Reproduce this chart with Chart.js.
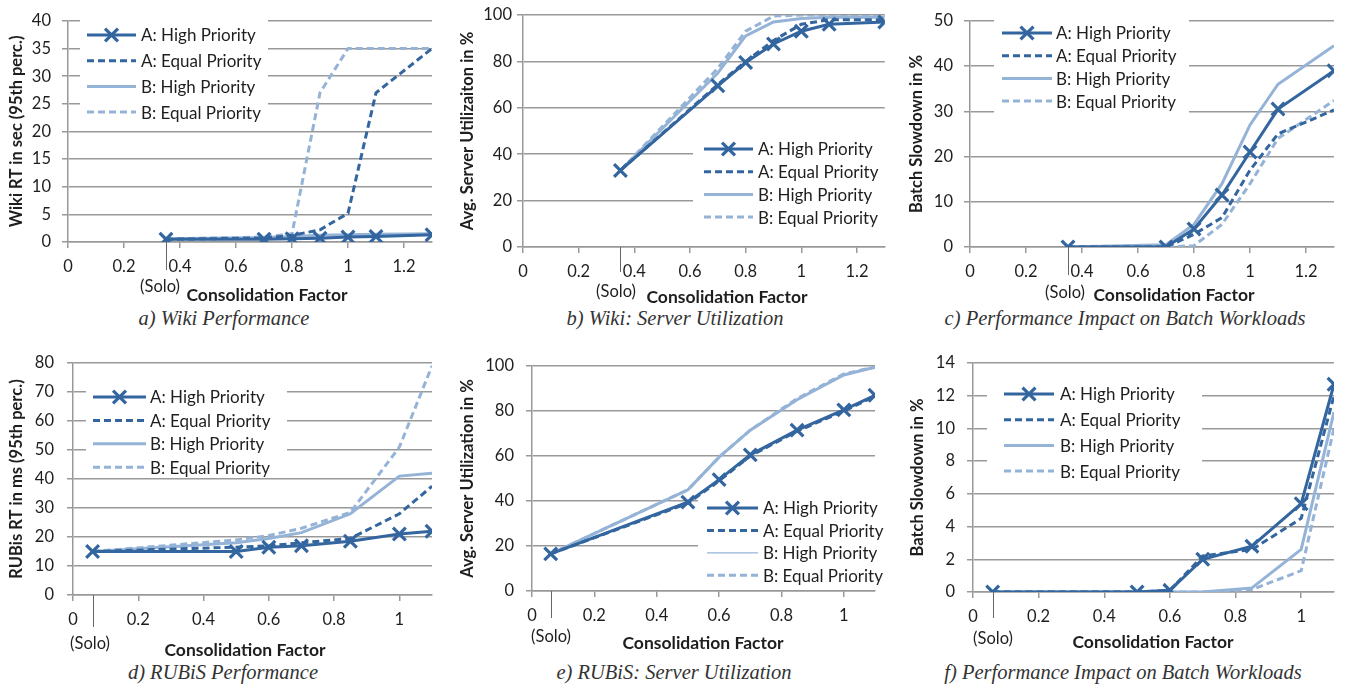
<!DOCTYPE html>
<html><head><meta charset="utf-8">
<script src="https://cdn.jsdelivr.net/npm/chart.js@4/dist/chart.umd.min.js"></script>
<style>
html,body{margin:0;padding:0;background:#fff;}
body{width:1347px;height:685px;position:relative;overflow:hidden;}
canvas{position:absolute;}
.cap{position:absolute;width:440px;text-align:center;font-family:"Liberation Serif",serif;font-style:italic;font-size:20.5px;color:#333;line-height:20px;}
</style></head>
<body>
<canvas id="ca" width="445" height="305" style="left:0;top:0"></canvas>
<canvas id="cb" width="447" height="305" style="left:450px;top:0"></canvas>
<canvas id="cc" width="450" height="305" style="left:897px;top:0"></canvas>
<canvas id="cd" width="445" height="320" style="left:0;top:340px"></canvas>
<canvas id="ce" width="447" height="320" style="left:450px;top:340px"></canvas>
<canvas id="cf" width="450" height="320" style="left:897px;top:340px"></canvas>
<div class="cap" style="left:4px;top:308px">a) Wiki Performance</div>
<div class="cap" style="left:455px;top:308px">b) Wiki: Server Utilization</div>
<div class="cap" style="left:905px;top:308px">c) Performance Impact on Batch Workloads</div>
<div class="cap" style="left:3px;top:662px">d) RUBiS Performance</div>
<div class="cap" style="left:454px;top:662px">e) RUBiS: Server Utilization</div>
<div class="cap" style="left:903px;top:662px">f) Performance Impact on Batch Workloads</div>
<script>
// ---- data ----
const seriesLabels = ["A: High Priority", "A: Equal Priority", "B: High Priority", "B: Equal Priority"];
const wikiX  = [0.35, 0.7, 0.8, 0.9, 1.0, 1.1, 1.3];
const rubisX = [0.06, 0.5, 0.6, 0.7, 0.85, 1.0, 1.1];
const wikiXTicks  = [0, 0.2, 0.4, 0.6, 0.8, 1, 1.2];
const rubisXTicks = [0, 0.2, 0.4, 0.6, 0.8, 1];

const wikiRT_AHigh  = [0.5, 0.5, 0.6, 0.7, 0.9, 1.0, 1.3];
const wikiRT_AEqual = [0.5, 0.7, 1.2, 2.2, 5.2, 27, 35];
const wikiRT_BHigh  = [0.6, 0.8, 1.0, 1.2, 1.3, 1.4, 1.5];
const wikiRT_BEqual = [0.5, 0.9, 1.5, 27, 35, 35, 35];

const wikiUtil_AHigh  = [33, 69.5, 79.5, 87.5, 93, 96, 97];
const wikiUtil_AEqual = [33, 70, 80, 89, 96, 98, 98];
const wikiUtil_BHigh  = [33, 75, 91, 97, 98.5, 99, 99];
const wikiUtil_BEqual = [33, 77, 93, 99.5, 100, 100, 100];

const wikiBatch_AHigh  = [0, 0, 4, 11.5, 21, 30.5, 39];
const wikiBatch_AEqual = [0, 0, 2.8, 6.5, 17, 25, 30.3];
const wikiBatch_BHigh  = [0, 0.5, 5, 14, 27, 36, 44.5];
const wikiBatch_BEqual = [0, 0, 0.3, 5, 14, 24, 32.4];

const rubisRT_AHigh  = [15, 15, 16.5, 17, 18.5, 21, 22];
const rubisRT_AEqual = [15, 16.5, 17, 18, 19.5, 28, 37.5];
const rubisRT_BHigh  = [15, 18, 19.5, 21.5, 28, 41, 42];
const rubisRT_BEqual = [15, 19, 20.5, 23, 28.5, 51, 79];

const rubisUtil_AHigh  = [16.5, 39.5, 49.5, 60.5, 71.5, 80.5, 87];
const rubisUtil_AEqual = [16.5, 39, 49, 60, 71, 80, 86.5];
const rubisUtil_BHigh  = [16.5, 45, 59.5, 71.5, 85, 96, 99.5];
const rubisUtil_BEqual = [16.5, 45, 59.5, 71.5, 85.5, 96.5, 99.5];

const rubisBatch_AHigh  = [0, 0, 0.1, 2, 2.8, 5.4, 12.7];
const rubisBatch_AEqual = [0, 0, 0.1, 2.2, 2.6, 4.5, 12];
const rubisBatch_BHigh  = [0, 0, 0, 0, 0.25, 2.6, 11];
const rubisBatch_BEqual = [0, 0, 0, 0, 0.15, 1.3, 10];

// ---- styles ----
const DARK = '#33659f', LIGHT = '#95b3d7', GRID = '#999999', TXT = '#1e1e1e';
const colors = [DARK, DARK, LIGHT, LIGHT];
const dashes = [[], [7, 4], [], [7, 4]];
const FONT = 'Lato';

function fmt(v){ return String(Math.round(v*10)/10); }

const deco = {
  id: 'deco',
  beforeDatasetsDraw(chart, args, o) {
    const ctx = chart.ctx, L = o.legend;
    ctx.save();
    ctx.fillStyle = '#fff';
    ctx.fillRect(L.box[0], L.box[1], L.box[2], L.box[3]);
    chart.data.datasets.forEach((ds, i) => {
      const y = L.y0 + i * L.dy;
      ctx.strokeStyle = ds.borderColor;
      ctx.lineWidth = (L.widths && L.widths[i]) || ds.borderWidth;
      ctx.setLineDash(ds.borderDash || []);
      ctx.beginPath(); ctx.moveTo(L.x0, y); ctx.lineTo(L.x1, y); ctx.stroke();
      ctx.setLineDash([]);
      if (ds.pointRadius > 0) {
        const cx = (L.x0 + L.x1) / 2, r = ds.pointRadius * 0.72;
        ctx.lineWidth = ds.pointBorderWidth;
        ctx.beginPath();
        ctx.moveTo(cx - r, y - r); ctx.lineTo(cx + r, y + r);
        ctx.moveTo(cx - r, y + r); ctx.lineTo(cx + r, y - r);
        ctx.stroke();
      }
      ctx.fillStyle = TXT; ctx.font = '17px ' + FONT; ctx.textBaseline = 'middle'; ctx.textAlign = 'left';
      ctx.fillText(ds.label, L.tx, y + 1);
    });
    ctx.restore();
  },
  afterDraw(chart, args, o) {
    const ctx = chart.ctx, a = chart.chartArea;
    ctx.save();
    // solo tick
    const sx = Math.round(chart.scales.x.getPixelForValue(o.solo.x)) + 0.5;
    ctx.strokeStyle = '#666'; ctx.lineWidth = 1;
    ctx.beginPath(); ctx.moveTo(sx, a.bottom); ctx.lineTo(sx, o.solo.y1); ctx.stroke();
    ctx.fillStyle = TXT; ctx.textAlign = 'center'; ctx.textBaseline = 'middle';
    ctx.font = '16.5px ' + FONT;
    ctx.fillText('(Solo)', o.solo.tx, o.solo.ty);
    // x title
    ctx.font = 'bold 17.5px ' + FONT;
    ctx.fillText(o.xTitle.text, o.xTitle.x, o.xTitle.y);
    // y title
    ctx.font = 'bold 16.5px ' + FONT;
    ctx.translate(o.yTitle.x, (a.top + a.bottom) / 2);
    ctx.rotate(-Math.PI / 2);
    ctx.fillText(o.yTitle.text, 0, 0);
    ctx.restore();
  }
};

function makeChart(id, p) {
  const cv = document.getElementById(id);
  const W = cv.width, H = cv.height;
  const datasets = p.series.map((vals, i) => ({
    label: seriesLabels[i],
    data: p.x.map((x, j) => ({ x: x, y: vals[j] })),
    borderColor: colors[i],
    borderWidth: 3,
    borderDash: dashes[i],
    pointRadius: i === 0 ? 9 : 0,
    pointHoverRadius: i === 0 ? 9 : 0,
    pointStyle: 'crossRot',
    pointBorderColor: DARK,
    pointBackgroundColor: DARK,
    pointBorderWidth: 3.2,
    tension: 0,
    fill: false
  }));
  new Chart(cv, {
    type: 'line',
    data: { datasets },
    options: {
      responsive: false, animation: false, devicePixelRatio: 1,
      events: [],
      layout: { padding: { top: p.area.top, right: W - p.area.right, left: 0, bottom: 0 } },
      plugins: {
        legend: { display: false }, tooltip: { enabled: false },
        deco: { legend: p.legend, solo: p.solo, xTitle: p.xTitle, yTitle: p.yTitle }
      },
      scales: {
        x: {
          type: 'linear', min: 0, max: p.xMax,
          afterBuildTicks: s => { s.ticks = p.xTicks.map(v => ({ value: v })); },
          afterFit: s => { s.height = H - p.area.bottom; },
          grid: { drawOnChartArea: false, tickLength: 6, color: GRID, lineWidth: 1.5 },
          border: { color: GRID, width: 1.5 },
          ticks: { font: { family: FONT, size: 16.5 }, color: TXT, padding: 9, maxRotation: 0, autoSkip: false, callback: v => fmt(v) }
        },
        y: {
          type: 'linear', min: 0, max: p.yMax,
          afterFit: s => { s.width = p.area.left; },
          grid: { tickLength: 6, color: GRID, lineWidth: 1.5 },
          border: { color: GRID, width: 1.5 },
          ticks: { stepSize: p.yStep, font: { family: FONT, size: 16.5 }, color: TXT, padding: p.yPad, callback: v => fmt(v) }
        }
      }
    },
    plugins: [deco]
  });
}

makeChart('ca', {
  x: wikiX, xTicks: wikiXTicks, xMax: 1.3, yMax: 40, yStep: 5, yPad: 11,
  series: [wikiRT_AHigh, wikiRT_AEqual, wikiRT_BHigh, wikiRT_BEqual],
  area: { left: 68, right: 432, top: 15, bottom: 242 },
  legend: { box: [80, 20, 188, 102], y0: 35, dy: 25.7, x0: 87, x1: 136, tx: 141 },
  solo: { x: 0.35, y1: 270, tx: 160, ty: 287 },
  xTitle: { text: 'Consolidation Factor', x: 267, y: 295 },
  yTitle: { text: 'Wiki RT in sec (95th perc.)', x: 17 }
});
makeChart('cb', {
  x: wikiX, xTicks: wikiXTicks, xMax: 1.3, yMax: 100, yStep: 20, yPad: 5,
  series: [wikiUtil_AHigh, wikiUtil_AEqual, wikiUtil_BHigh, wikiUtil_BEqual],
  area: { left: 73, right: 436, top: 15, bottom: 247 },
  legend: { box: [243, 138, 204, 90], y0: 149, dy: 22.7, x0: 254, x1: 303, tx: 308 },
  solo: { x: 0.35, y1: 272, tx: 166, ty: 292 },
  xTitle: { text: 'Consolidation Factor', x: 277, y: 297 },
  yTitle: { text: 'Avg. Server Utilizaiton in %', x: 18 }
});
makeChart('cc', {
  x: wikiX, xTicks: wikiXTicks, xMax: 1.3, yMax: 50, yStep: 10, yPad: 11,
  series: [wikiBatch_AHigh, wikiBatch_AEqual, wikiBatch_BHigh, wikiBatch_BEqual],
  area: { left: 73, right: 437, top: 14, bottom: 247 },
  legend: { box: [97, 20, 195, 93], y0: 33, dy: 22.7, x0: 105, x1: 155, tx: 159 },
  solo: { x: 0.35, y1: 275, tx: 168, ty: 293 },
  xTitle: { text: 'Consolidation Factor', x: 277, y: 295 },
  yTitle: { text: 'Batch Slowdown in %', x: 20 }
});
makeChart('cd', {
  x: rubisX, xTicks: rubisXTicks, xMax: 1.1, yMax: 80, yStep: 10, yPad: 13,
  series: [rubisRT_AHigh, rubisRT_AEqual, rubisRT_BHigh, rubisRT_BEqual],
  area: { left: 73, right: 432, top: 23, bottom: 255 },
  legend: { box: [86, 38, 201, 98], y0: 57, dy: 23.4, x0: 93, x1: 146, tx: 150 },
  solo: { x: 0.06, y1: 287, tx: 90, ty: 304 },
  xTitle: { text: 'Consolidation Factor', x: 245, y: 310 },
  yTitle: { text: 'RUBis RT in ms (95th perc.)', x: 17 }
});
makeChart('ce', {
  x: rubisX, xTicks: rubisXTicks, xMax: 1.1, yMax: 100, yStep: 20, yPad: 12,
  series: [rubisUtil_AHigh, rubisUtil_AEqual, rubisUtil_BHigh, rubisUtil_BEqual],
  area: { left: 82, right: 425, top: 26, bottom: 251 },
  legend: { box: [248, 150, 199, 96], y0: 168, dy: 22.4, x0: 257, x1: 308, tx: 313, widths: [0, 0, 1.2, 0] },
  solo: { x: 0.06, y1: 278, tx: 101, ty: 297 },
  xTitle: { text: 'Consolidation Factor', x: 253, y: 303 },
  yTitle: { text: 'Avg. Server Utilization in %', x: 18 }
});
makeChart('cf', {
  x: rubisX, xTicks: rubisXTicks, xMax: 1.1, yMax: 14, yStep: 2, yPad: 12,
  series: [rubisBatch_AHigh, rubisBatch_AEqual, rubisBatch_BHigh, rubisBatch_BEqual],
  area: { left: 76, right: 437, top: 23, bottom: 252 },
  legend: { box: [90, 40, 215, 98], y0: 54, dy: 25.7, x0: 107, x1: 157, tx: 163 },
  solo: { x: 0.06, y1: 278, tx: 96, ty: 299 },
  xTitle: { text: 'Consolidation Factor', x: 256, y: 302 },
  yTitle: { text: 'Batch Slowdown in %', x: 21 }
});
</script>
</body></html>
